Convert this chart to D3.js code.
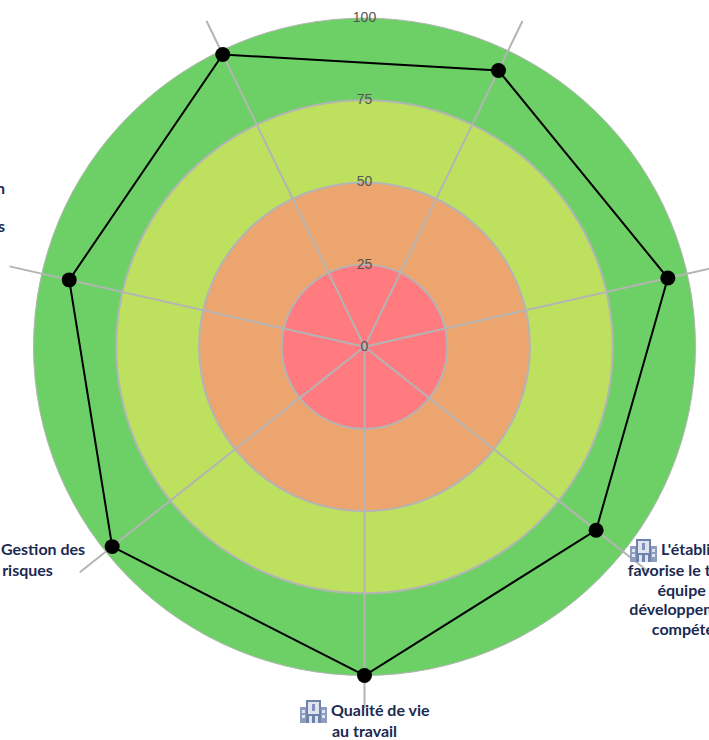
<!DOCTYPE html>
<html>
<head>
<meta charset="utf-8">
<script src="https://cdn.jsdelivr.net/npm/d3@7"></script>
<style>
  html, body { margin: 0; padding: 0; background: #fff; overflow: hidden; }
  .tick-label { font: 14px "Liberation Sans", Arial, sans-serif; fill: #555; }
  .axis-label { font: 700 16px Lato, "Open Sans", sans-serif; fill: #1b2a52; }
</style>
</head>
<body>
<div id="chart"></div>
<script>
const width = 709;
const height = 740;
const cx = 364.5;
const cy = 346.8;
const outerRadius = 331;

// clockwise from the axis that points down
const axisValues = [100, 97.5, 91.5, 98.7, 93.3, 94, 89.5];
const ringLevels = [100, 75, 50, 25];
const ringColors = ["#6dd066", "#bde05f", "#eca56f", "#ff7b80"];
const tickLabels = [0, 25, 50, 75, 100];

// only what shows inside the window, the rest of these labels is cut off
const bottomLabel = ["Qualité de vie", "au travail"];
const lowerRightLabel = ["L'établissement", "favorise le travail en", "équipe et le", "développement des", "compétences"];
const lowerLeftLabel = ["Gestion des", "risques"];
const leftLabel = ["n", "", "s"];

const r = d3.scaleLinear().domain([0, 100]).range([0, outerRadius]);
const angle = d3.scaleLinear().domain([0, axisValues.length]).range([Math.PI, 3 * Math.PI]);

const svg = d3.select("#chart")
  .append("svg")
  .attr("width", width)
  .attr("height", height)
  .style("display", "block");

// the reference is a touch flatter than a true circle
const chart = svg.append("g").attr("transform", `translate(${cx},${cy}) scale(1,0.993)`);

// Draw rings
chart.selectAll(".ring")
  .data(ringLevels)
  .enter()
  .append("circle")
  .attr("class", "ring")
  .attr("r", d => r(d))
  .attr("fill", (d, i) => ringColors[i])
  .attr("stroke", "#b4b4b4")
  .attr("stroke-width", (d, i) => i === 0 ? 1 : 2);

// Draw spokes, they run a bit past the outer ring
chart.selectAll(".spoke")
  .data(axisValues)
  .enter()
  .append("line")
  .attr("class", "spoke")
  .attr("x2", (d, i) => r(110) * Math.sin(angle(i)))
  .attr("y2", (d, i) => -r(110) * Math.cos(angle(i)))
  .attr("stroke", "#b4b4b4")
  .attr("stroke-width", 2);

// Draw score polygon
const radar = d3.lineRadial()
  .angle((d, i) => angle(i))
  .radius(d => r(d))
  .curve(d3.curveLinearClosed);

chart.append("path")
  .attr("d", radar(axisValues))
  .attr("fill", "none")
  .attr("stroke", "#000")
  .attr("stroke-width", 2);

chart.selectAll(".score")
  .data(axisValues)
  .enter()
  .append("circle")
  .attr("class", "score")
  .attr("cx", (d, i) => r(d) * Math.sin(angle(i)))
  .attr("cy", (d, i) => -r(d) * Math.cos(angle(i)))
  .attr("r", 7.5)
  .attr("fill", "#000");

// Draw tick labels
chart.selectAll(".tick-label")
  .data(tickLabels)
  .enter()
  .append("text")
  .attr("class", "tick-label")
  .attr("y", d => -r(d))
  .attr("dy", "0.28em")
  .attr("text-anchor", "middle")
  .text(d => d);

function drawIcon(x, y) {
  const icon = svg.append("g").attr("transform", `translate(${x},${y})`);
  icon.append("rect").attr("x", 0).attr("y", 7).attr("width", 27).attr("height", 16).attr("fill", "#8c9dc0");
  icon.append("rect").attr("x", 6).attr("y", 0).attr("width", 15).attr("height", 23).attr("fill", "#6f82aa");
  icon.append("rect").attr("x", 8).attr("y", 2).attr("width", 11).attr("height", 12).attr("fill", "#dfe5f0");
  icon.append("rect").attr("x", 12).attr("y", 4).attr("width", 3).attr("height", 7).attr("fill", "#7f92b8");
  icon.append("rect").attr("x", 9).attr("y", 16).attr("width", 3).attr("height", 7).attr("fill", "#dfe5f0");
  icon.append("rect").attr("x", 15).attr("y", 16).attr("width", 3).attr("height", 7).attr("fill", "#dfe5f0");
  [2, 22].forEach(px => {
    [10, 15].forEach(py => {
      icon.append("rect").attr("x", px).attr("y", py).attr("width", 3).attr("height", 3).attr("fill", "#dfe5f0");
    });
  });
}

function drawLabel(lines, x, y, lineHeight, anchor) {
  svg.append("text")
    .attr("class", "axis-label")
    .attr("text-anchor", anchor)
    .selectAll("tspan")
    .data(lines)
    .enter()
    .append("tspan")
    .attr("x", x)
    .attr("y", (d, i) => y + i * lineHeight)
    .text(d => d);
}

// Draw labels, the first line of each one sits right of its icon
drawLabel(bottomLabel.slice(0, 1), 331, 715.5, 21, "start");
drawLabel(bottomLabel.slice(1), cx, 736.5, 21, "middle");
drawIcon(300, 700);

drawLabel(lowerRightLabel.slice(0, 1), 661, 555, 19.7, "start");
drawLabel(lowerRightLabel.slice(1), 699, 576, 19.7, "middle");
drawIcon(630, 539);

drawLabel(lowerLeftLabel.slice(0, 1), 1, 555, 21, "start");
drawLabel(lowerLeftLabel.slice(1), 27.5, 576, 21, "middle");

drawLabel(leftLabel, 5, 194, 19, "end");
</script>
</body>
</html>
